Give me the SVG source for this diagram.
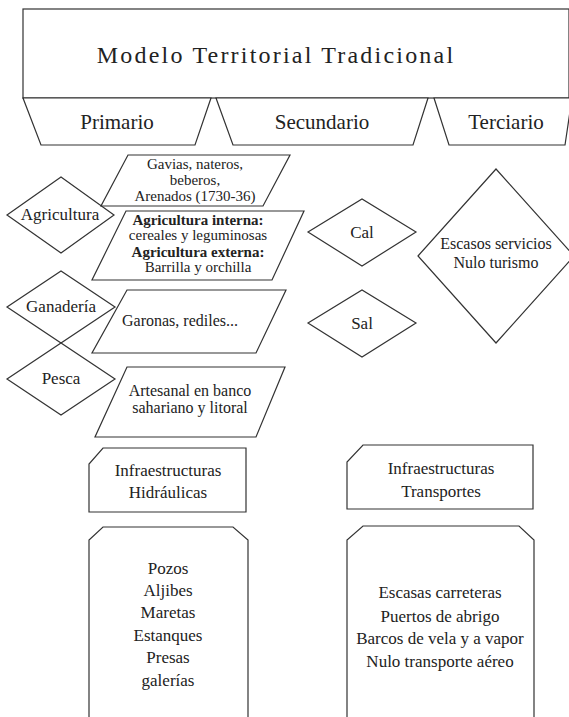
<svg xmlns="http://www.w3.org/2000/svg" width="569" height="717" viewBox="0 0 569 717" font-family="'Liberation Serif', 'DejaVu Serif', serif">
<style>
.s{fill:#fff;stroke:#333;stroke-width:1.2}
text{font-family:'Liberation Serif','DejaVu Serif',serif;fill:#222;text-anchor:middle}
.t{font-size:17px}
.m{font-size:21px}
.sm{font-size:16px}
.xs{font-size:15px}
.b{font-weight:bold}
</style>
<rect width="569" height="717" fill="#fff"/>
<g id="title"><rect class="s" x="23" y="9" width="546" height="89"/><text x="276" y="63" style="font-size:24px;letter-spacing:2.2px">Modelo Territorial Tradicional</text></g>
<g id="primario"><polygon class="s" points="23,98 211,98 195,145 41,145"/><text class="m" x="117" y="129">Primario</text></g>
<g id="secundario"><polygon class="s" points="216,98 428,98 413,145 233,145"/><text class="m" x="322" y="129">Secundario</text></g>
<g id="terciario"><polygon class="s" points="434,98 572,98 565,145 449,145"/><text class="m" x="506" y="129">Terciario</text></g>
<g id="agricultura"><polygon class="s" points="7,215 61,177 114,215 61,253"/><text class="t" x="60" y="220">Agricultura</text></g>
<g id="gavias"><polygon class="s" points="128,155 290,155 263,206 101,206"/><text class="xs" x="195" y="169">Gavias, nateros,</text><text class="xs" x="195" y="185">beberos,</text><text class="xs" x="195" y="201">Arenados (1730-36)</text></g>
<g id="agri-int"><polygon class="s" points="126,211 304,211 272,280 92,280"/><text class="xs b" x="198" y="225">Agricultura interna:</text><text class="xs" x="198" y="240">cereales y leguminosas</text><text class="xs b" x="198" y="257">Agricultura externa:</text><text class="xs" x="198" y="272">Barrilla y orchilla</text></g>
<g id="ganaderia"><polygon class="s" points="7,307 61,271 115,307 61,343"/><text class="t" x="61" y="312">Ganadería</text></g>
<g id="garonas"><polygon class="s" points="127,290 286,290 256,353 92,353"/><text class="sm" x="180" y="326">Garonas, rediles...</text></g>
<g id="pesca"><polygon class="s" points="7,379 61,343 115,379 61,415"/><text class="t" x="61" y="384">Pesca</text></g>
<g id="artesanal"><polygon class="s" points="127,367 285,367 256,437 95,437"/><text class="sm" x="190" y="396">Artesanal en banco</text><text class="sm" x="190" y="413">sahariano y litoral</text></g>
<g id="cal"><polygon class="s" points="308,232 362,199 416,232 362,266"/><text class="t" x="362" y="238">Cal</text></g>
<g id="sal"><polygon class="s" points="308,323 362,290 416,323 362,357"/><text class="t" x="362" y="329">Sal</text></g>
<g id="terciario-d"><polygon class="s" points="418,256 496,169 574,256 496,343"/><text class="sm" x="496" y="249">Escasos servicios</text><text class="sm" x="496" y="268">Nulo turismo</text></g>
<g id="infra-h"><polygon class="s" points="103,448 246,448 246,512 89,512 89,464"/><text class="t" x="168" y="476">Infraestructuras</text><text class="t" x="168" y="498">Hidráulicas</text></g>
<g id="hidro-list"><polygon class="s" points="103,527 233,527 248,540 248,720 89,720 89,540"/><text class="t" x="168" y="574">Pozos</text><text class="t" x="168" y="596">Aljibes</text><text class="t" x="168" y="618">Maretas</text><text class="t" x="168" y="641">Estanques</text><text class="t" x="168" y="663">Presas</text><text class="t" x="168" y="686">galerías</text></g>
<g id="infra-t"><polygon class="s" points="363,445 533,445 533,509 347,509 347,462"/><text class="t" x="441" y="474">Infraestructuras</text><text class="t" x="441" y="497">Transportes</text></g>
<g id="trans-list"><polygon class="s" points="363,526 519,526 534,540 534,720 347,720 347,540"/><text class="t" x="440" y="598">Escasas carreteras</text><text class="t" x="440" y="622">Puertos de abrigo</text><text class="t" x="440" y="644">Barcos de vela y a vapor</text><text class="t" x="440" y="667">Nulo transporte aéreo</text></g>
<g id="connectors"></g>
</svg>
